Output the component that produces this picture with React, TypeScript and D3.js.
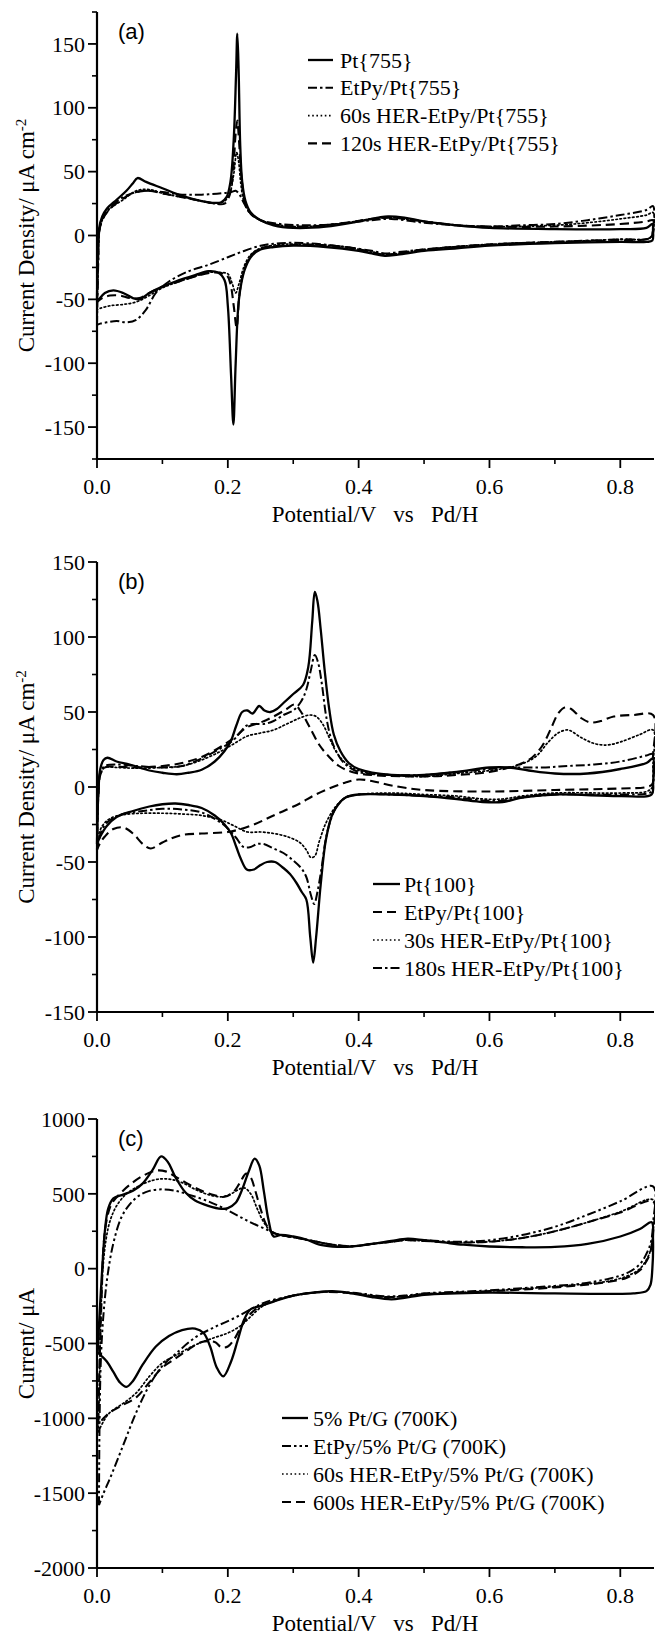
import React from 'react';
import * as d3 from 'd3';

type P = [number, number];

// ---------- Panel (a): Pt{755}, current density (uA cm-2) vs potential (V) ----------
const aPt: P[] = [[0,-50],[0.001,-20],[0.003,5],[0.008,15],[0.015,21],[0.03,28],[0.045,35],[0.055,41],[0.062,45],[0.075,42],[0.1,37],[0.13,31],[0.16,27],[0.18,25.5],[0.19,26],[0.198,30],[0.204,42],[0.209,75],[0.2125,125],[0.2145,158],[0.2165,130],[0.219,70],[0.222,42],[0.227,27],[0.235,18],[0.25,12],[0.27,8],[0.3,6],[0.35,7],[0.4,11],[0.43,14],[0.445,15],[0.47,14],[0.5,11],[0.55,8],[0.6,6],[0.7,5],[0.8,5],[0.84,6],[0.849,9],
  [0.85,4],[0.849,-4],[0.84,-5],[0.8,-5],[0.7,-6],[0.6,-8],[0.55,-10],[0.5,-12],[0.46,-15],[0.44,-16],[0.42,-14],[0.4,-12],[0.35,-9],[0.3,-8],[0.27,-9],[0.25,-11],[0.235,-17],[0.225,-28],[0.217,-50],[0.212,-100],[0.2085,-148],[0.205,-110],[0.2,-55],[0.195,-35],[0.185,-29],[0.17,-28],[0.15,-31],[0.12,-36],[0.1,-40],[0.08,-45],[0.065,-50],[0.055,-49],[0.04,-45],[0.025,-43],[0.012,-45],[0.003,-50],[0,-52]];
const aEtPy: P[] = [[0,-70],[0.002,-20],[0.004,5],[0.01,15],[0.02,22],[0.04,30],[0.06,34],[0.08,35],[0.1,34],[0.13,32],[0.16,32],[0.19,33],[0.205,34],[0.212,35],[0.218,32],[0.225,25],[0.235,17],[0.25,12],[0.28,9],[0.32,8],[0.37,9],[0.42,12],[0.45,13],[0.5,10],[0.55,8],[0.6,7],[0.65,8],[0.7,9],[0.75,12],[0.8,16],[0.84,20],[0.85,23],
  [0.85,5],[0.845,-2],[0.8,-3],[0.7,-5],[0.6,-7],[0.5,-11],[0.46,-13],[0.44,-14],[0.42,-12],[0.38,-9],[0.32,-6],[0.28,-6],[0.25,-8],[0.22,-13],[0.2,-17],[0.17,-23],[0.14,-28],[0.11,-36],[0.09,-45],[0.075,-58],[0.06,-66],[0.045,-68],[0.03,-67],[0.015,-68],[0.005,-69],[0,-70]];
const a60s: P[] = [[0,-58],[0.002,-15],[0.004,5],[0.01,14],[0.02,21],[0.04,28],[0.06,35],[0.08,36],[0.1,33],[0.13,30],[0.16,27],[0.18,25],[0.195,27],[0.203,33],[0.209,48],[0.2135,65],[0.2165,58],[0.22,40],[0.225,26],[0.235,17],[0.25,12],[0.28,8],[0.32,7],[0.38,10],[0.42,13],[0.45,14],[0.5,11],[0.55,8],[0.6,7],[0.7,8],[0.75,10],[0.8,13],[0.84,16],[0.85,18],
  [0.85,3],[0.845,-2],[0.8,-3],[0.7,-5],[0.6,-7],[0.5,-11],[0.46,-14],[0.44,-15],[0.42,-13],[0.38,-9],[0.32,-7],[0.28,-7],[0.25,-10],[0.235,-15],[0.225,-24],[0.217,-38],[0.212,-45],[0.207,-38],[0.2,-30],[0.19,-29],[0.17,-29],[0.15,-32],[0.12,-37],[0.1,-41],[0.08,-47],[0.06,-52],[0.04,-54],[0.02,-55],[0.005,-57],[0,-58]];
const a120s: P[] = [[0,-52],[0.002,-15],[0.004,5],[0.01,14],[0.02,21],[0.04,29],[0.06,34],[0.08,35],[0.1,33],[0.13,30],[0.16,27],[0.18,25],[0.195,25],[0.203,32],[0.208,50],[0.212,80],[0.2145,90],[0.217,75],[0.221,45],[0.226,27],[0.235,17],[0.25,12],[0.28,8],[0.32,7],[0.38,10],[0.42,13],[0.45,14],[0.5,11],[0.55,8],[0.6,7],[0.7,7],[0.8,9],[0.84,11],[0.85,12],
  [0.85,2],[0.845,-2],[0.8,-4],[0.7,-5],[0.6,-7],[0.5,-11],[0.46,-14],[0.44,-15],[0.42,-13],[0.38,-9],[0.32,-7],[0.28,-8],[0.25,-10],[0.235,-16],[0.225,-27],[0.218,-45],[0.2135,-72],[0.209,-55],[0.204,-38],[0.198,-31],[0.18,-29],[0.15,-32],[0.12,-37],[0.1,-40],[0.08,-45],[0.065,-49],[0.05,-49],[0.035,-47],[0.02,-47],[0.008,-49],[0,-52]];
const aLabels = ['Pt{755}', 'EtPy/Pt{755}', '60s HER-EtPy/Pt{755}', '120s HER-EtPy/Pt{755}'];
const aYTicks = [-150, -100, -50, 0, 50, 100, 150];

// ---------- Panel (b): Pt{100} ----------
const bPt: P[] = [[0,-38],[0.002,-5],[0.005,12],[0.01,18],[0.016,19.5],[0.03,17],[0.05,15],[0.08,11],[0.1,9.5],[0.122,8.5],[0.14,9.5],[0.16,11.5],[0.18,17],[0.195,24],[0.205,31],[0.213,41],[0.222,50],[0.23,51],[0.238,49],[0.248,54],[0.256,51],[0.265,50],[0.275,52],[0.285,56],[0.3,62],[0.315,68],[0.323,80],[0.329,110],[0.333,130],[0.337,124],[0.342,105],[0.348,78],[0.355,52],[0.362,35],[0.372,24],[0.385,16],[0.4,12],[0.45,8],[0.5,8],[0.55,10],[0.6,13],[0.63,13],[0.66,11],[0.7,9],[0.75,9],[0.8,12],[0.84,16],[0.85,19],
  [0.85,2],[0.848,-5],[0.8,-6],[0.7,-5],[0.65,-7],[0.62,-10],[0.59,-10],[0.55,-8],[0.5,-6],[0.45,-5],[0.4,-5],[0.38,-7],[0.37,-11],[0.36,-18],[0.35,-35],[0.342,-65],[0.335,-100],[0.3305,-117],[0.326,-100],[0.32,-75],[0.313,-70],[0.305,-64],[0.295,-58],[0.285,-54],[0.272,-50],[0.26,-50],[0.25,-52],[0.24,-55],[0.229,-55],[0.22,-48],[0.213,-40],[0.205,-31],[0.195,-25],[0.18,-19],[0.16,-14],[0.14,-12],[0.12,-11],[0.1,-11.5],[0.08,-13],[0.055,-16],[0.03,-20],[0.015,-26],[0.005,-33],[0,-38]];
const bEtPy: P[] = [[0,-42],[0.002,-5],[0.005,8],[0.012,13],[0.03,13.5],[0.06,13],[0.1,14],[0.13,16],[0.16,20],[0.19,27],[0.21,33],[0.23,40],[0.25,43],[0.27,47],[0.29,52],[0.302,55],[0.312,50],[0.325,40],[0.34,28],[0.355,20],[0.37,14],[0.39,10],[0.42,8],[0.5,7],[0.55,8],[0.6,10],[0.63,13],[0.66,18],[0.68,27],[0.695,40],[0.705,49],[0.715,53],[0.725,52],[0.74,46],[0.755,43],[0.77,44],[0.79,47],[0.82,48],[0.85,48],
  [0.85,20],[0.849,2],[0.84,0],[0.8,-1],[0.7,-2],[0.6,-3],[0.5,-2],[0.45,1],[0.42,4],[0.4,5],[0.38,3],[0.355,-1],[0.33,-6],[0.31,-11],[0.28,-17],[0.26,-21],[0.24,-25],[0.22,-28],[0.2,-30],[0.16,-31],[0.13,-32],[0.115,-34],[0.1,-37],[0.082,-41],[0.07,-38],[0.055,-31],[0.04,-27],[0.025,-28],[0.012,-33],[0.004,-38],[0,-42]];
const b30s: P[] = [[0,-35],[0.002,-5],[0.005,8],[0.012,13],[0.03,13],[0.06,12.5],[0.1,13],[0.13,14],[0.16,18],[0.19,24],[0.21,29],[0.23,34],[0.25,36],[0.27,38],[0.29,42],[0.31,46],[0.325,48],[0.335,47],[0.345,42],[0.355,33],[0.365,24],[0.38,16],[0.4,11],[0.45,8],[0.5,7],[0.55,9],[0.6,11],[0.64,14],[0.67,20],[0.69,30],[0.705,36],[0.72,38],[0.74,33],[0.76,29],[0.78,28],[0.8,30],[0.83,35],[0.85,38],
  [0.85,15],[0.849,0],[0.84,-3],[0.8,-4],[0.7,-4],[0.65,-6],[0.62,-8],[0.59,-8],[0.55,-6],[0.5,-5],[0.45,-4],[0.4,-5],[0.38,-7],[0.365,-13],[0.35,-24],[0.34,-36],[0.333,-46],[0.327,-47],[0.32,-42],[0.31,-37],[0.29,-33],[0.27,-31],[0.25,-30],[0.23,-30],[0.21,-26],[0.19,-22],[0.16,-19],[0.13,-18],[0.1,-17.5],[0.07,-17.5],[0.04,-18.5],[0.02,-21],[0.008,-26],[0,-35]];
const b180s: P[] = [[0,-42],[0.002,-5],[0.005,10],[0.012,14],[0.03,15],[0.06,14],[0.1,13],[0.13,14],[0.16,19],[0.19,26],[0.208,31],[0.22,37],[0.229,41],[0.24,42],[0.255,42],[0.27,44],[0.285,48],[0.3,51],[0.312,57],[0.32,65],[0.327,78],[0.333,88],[0.338,83],[0.344,68],[0.35,48],[0.358,32],[0.368,22],[0.38,15],[0.4,10],[0.45,8],[0.5,8],[0.55,10],[0.6,12],[0.63,13],[0.68,13],[0.72,14],[0.76,15],[0.8,17],[0.84,21],[0.85,22],
  [0.85,5],[0.848,-3],[0.8,-5],[0.7,-5],[0.65,-7],[0.62,-9],[0.59,-9],[0.55,-7],[0.5,-6],[0.45,-5],[0.4,-5],[0.38,-7],[0.365,-14],[0.352,-30],[0.343,-55],[0.337,-70],[0.332,-78],[0.327,-72],[0.32,-60],[0.312,-54],[0.3,-49],[0.285,-44],[0.27,-41],[0.255,-38],[0.245,-38],[0.235,-40],[0.224,-40],[0.213,-34],[0.203,-29],[0.19,-24],[0.16,-17],[0.13,-15],[0.1,-14.5],[0.07,-16],[0.04,-18],[0.02,-22],[0.008,-28],[0,-42]];
const bLabels = ['Pt{100}', 'EtPy/Pt{100}', '30s HER-EtPy/Pt{100}', '180s HER-EtPy/Pt{100}'];
const bYTicks = [-150, -100, -50, 0, 50, 100, 150];

// ---------- Panel (c): 5% Pt/G (700K), current (uA) ----------
const cPt: P[] = [[0.001,-560],[0.004,-300],[0.008,0],[0.012,250],[0.017,400],[0.025,470],[0.04,495],[0.055,520],[0.07,570],[0.085,660],[0.098,750],[0.108,715],[0.12,610],[0.135,510],[0.15,455],[0.17,420],[0.19,400],[0.2,405],[0.212,440],[0.222,530],[0.232,650],[0.241,735],[0.248,690],[0.255,520],[0.262,330],[0.27,215],[0.28,225],[0.3,215],[0.32,195],[0.34,160],[0.36,148],[0.39,148],[0.42,165],[0.45,185],[0.475,200],[0.5,190],[0.53,175],[0.56,160],[0.6,148],[0.65,143],[0.7,145],[0.75,165],[0.8,215],[0.83,265],[0.848,310],
  [0.85,200],[0.849,0],[0.846,-110],[0.84,-150],[0.82,-165],[0.78,-168],[0.7,-165],[0.6,-160],[0.55,-165],[0.5,-175],[0.47,-195],[0.45,-205],[0.42,-190],[0.39,-165],[0.36,-150],[0.33,-160],[0.3,-180],[0.27,-220],[0.25,-250],[0.235,-270],[0.225,-340],[0.215,-480],[0.205,-620],[0.193,-720],[0.183,-660],[0.173,-520],[0.163,-430],[0.15,-400],[0.13,-410],[0.11,-450],[0.09,-520],[0.07,-640],[0.055,-750],[0.045,-790],[0.035,-760],[0.025,-690],[0.015,-620],[0.006,-580],[0.001,-560]];
const cEtPy: P[] = [[0.003,-1580],[0.004,-1000],[0.006,-600],[0.01,-300],[0.016,-50],[0.025,170],[0.037,340],[0.05,430],[0.065,490],[0.08,520],[0.1,530],[0.12,520],[0.14,495],[0.17,450],[0.2,390],[0.23,320],[0.26,260],[0.28,225],[0.3,210],[0.33,185],[0.36,160],[0.39,150],[0.42,165],[0.45,180],[0.47,195],[0.5,190],[0.55,180],[0.6,190],[0.65,225],[0.7,280],[0.75,360],[0.8,450],[0.85,550],
  [0.85,300],[0.847,180],[0.84,100],[0.83,30],[0.81,-30],[0.78,-70],[0.74,-100],[0.7,-115],[0.65,-130],[0.6,-145],[0.55,-155],[0.5,-165],[0.47,-180],[0.44,-185],[0.41,-170],[0.38,-158],[0.35,-155],[0.32,-165],[0.29,-190],[0.26,-220],[0.24,-260],[0.21,-330],[0.18,-390],[0.15,-460],[0.12,-570],[0.1,-650],[0.08,-780],[0.06,-960],[0.04,-1180],[0.02,-1400],[0.01,-1500],[0.003,-1580]];
const c60s: P[] = [[0.002,-1090],[0.004,-700],[0.006,-300],[0.009,0],[0.014,200],[0.02,320],[0.03,420],[0.045,500],[0.065,555],[0.085,590],[0.1,600],[0.115,595],[0.13,575],[0.15,530],[0.17,495],[0.19,480],[0.205,500],[0.215,525],[0.225,540],[0.235,500],[0.245,400],[0.255,310],[0.265,255],[0.28,225],[0.3,210],[0.33,185],[0.36,160],[0.39,150],[0.42,165],[0.45,180],[0.47,190],[0.5,185],[0.55,175],[0.6,180],[0.65,205],[0.7,250],[0.75,310],[0.8,380],[0.85,460],
  [0.85,250],[0.846,120],[0.84,60],[0.83,0],[0.81,-50],[0.78,-85],[0.74,-105],[0.7,-120],[0.65,-135],[0.6,-150],[0.55,-160],[0.5,-170],[0.47,-185],[0.44,-190],[0.41,-175],[0.38,-160],[0.35,-155],[0.32,-165],[0.29,-190],[0.265,-225],[0.25,-260],[0.235,-320],[0.22,-380],[0.2,-430],[0.18,-460],[0.15,-510],[0.12,-580],[0.1,-630],[0.08,-720],[0.06,-830],[0.04,-900],[0.02,-960],[0.01,-1020],[0.002,-1090]];
const c600s: P[] = [[0.002,-1040],[0.004,-600],[0.007,-200],[0.01,150],[0.015,330],[0.022,430],[0.035,500],[0.05,560],[0.07,620],[0.09,655],[0.105,650],[0.12,615],[0.14,565],[0.16,520],[0.18,490],[0.195,480],[0.208,510],[0.218,570],[0.228,635],[0.235,610],[0.242,520],[0.25,400],[0.258,300],[0.267,245],[0.28,225],[0.3,210],[0.33,185],[0.36,160],[0.39,150],[0.42,165],[0.45,180],[0.47,190],[0.5,185],[0.55,175],[0.6,180],[0.65,205],[0.7,250],[0.75,310],[0.8,375],[0.85,450],
  [0.85,240],[0.846,110],[0.84,50],[0.83,-10],[0.81,-60],[0.78,-90],[0.74,-110],[0.7,-125],[0.65,-140],[0.6,-150],[0.55,-160],[0.5,-170],[0.47,-185],[0.44,-190],[0.41,-175],[0.38,-160],[0.35,-155],[0.32,-165],[0.29,-190],[0.265,-225],[0.25,-250],[0.235,-300],[0.22,-390],[0.21,-470],[0.2,-520],[0.19,-525],[0.18,-490],[0.16,-490],[0.14,-540],[0.12,-600],[0.1,-660],[0.08,-760],[0.06,-860],[0.04,-910],[0.02,-960],[0.01,-1000],[0.002,-1040]];
const cLabels = ['5% Pt/G (700K)', 'EtPy/5% Pt/G (700K)', '60s HER-EtPy/5% Pt/G (700K)', '600s HER-EtPy/5% Pt/G (700K)'];
const cYTicks = [-2000, -1500, -1000, -500, 0, 500, 1000];

const xTicks = [0, 0.2, 0.4, 0.6, 0.8];
const xMinor = [0.1, 0.3, 0.5, 0.7];

type StyleKey = 'solid' | 'dashdot' | 'dotted' | 'dashed' | 'dashdotdot';
const STY: Record<StyleKey, { dash: string; w: number }> = {
  solid: { dash: 'none', w: 2.3 },
  dashdot: { dash: '9,3,2.5,3', w: 2 },
  dotted: { dash: '1.6,2.6', w: 1.7 },
  dashed: { dash: '9,5', w: 2.1 },
  dashdotdot: { dash: '9,3,2.5,3,2.5,3', w: 2 },
};

const SERIF = '"Liberation Serif", "Times New Roman", serif';
const SANS = '"Liberation Sans", Arial, sans-serif';
const LEFT = 97;
const RIGHT = 653;

interface PanelProps {
  top: number; bottom: number; yDomain: [number, number];
  yTicks: number[]; yMinorStep: number;
  series: { data: P[]; style: StyleKey }[];
  labels: string[];
  legend: { lineX0: number; lineX1: number; textX: number; y0: number; dy: number };
  letter: string; yTitle: React.ReactNode;
}

function Panel(p: PanelProps) {
  const x = d3.scaleLinear().domain([0, 0.85]).range([LEFT, RIGHT]);
  const y = d3.scaleLinear().domain(p.yDomain).range([p.bottom, p.top]);
  const line = d3.line<P>().x(d => x(d[0])).y(d => y(d[1])).curve(d3.curveCatmullRom.alpha(0.5));
  const minor: number[] = [];
  for (let v = p.yDomain[0]; v <= p.yDomain[1] + 1e-9; v += p.yMinorStep) {
    if (!p.yTicks.some(t => Math.abs(t - v) < 1e-9)) minor.push(v);
  }
  const midY = (p.top + p.bottom) / 2;
  return (
    <g>
      {p.series.map((s, i) => (
        <path key={i} d={line(s.data) || ''} fill="none" stroke="#000"
          strokeWidth={STY[s.style].w} strokeDasharray={STY[s.style].dash}
          strokeLinejoin="round" strokeLinecap={s.style === 'dotted' ? 'round' : 'butt'} />
      ))}
      <line x1={LEFT} x2={LEFT} y1={p.top} y2={p.bottom + 1} stroke="#000" strokeWidth={2.2} />
      <line x1={LEFT - 1} x2={RIGHT + 1} y1={p.bottom} y2={p.bottom} stroke="#000" strokeWidth={2.2} />
      {p.yTicks.map(t => (
        <g key={'y' + t}>
          <line x1={LEFT - 9} x2={LEFT} y1={y(t)} y2={y(t)} stroke="#000" strokeWidth={1.8} />
          <text x={85} y={y(t)} dy="0.35em" textAnchor="end" fontFamily={SERIF} fontSize={22}>{String(t)}</text>
        </g>
      ))}
      {minor.map(t => (
        <line key={'ym' + t} x1={LEFT - 5} x2={LEFT} y1={y(t)} y2={y(t)} stroke="#000" strokeWidth={1.6} />
      ))}
      {xTicks.map(t => (
        <g key={'x' + t}>
          <line x1={x(t)} x2={x(t)} y1={p.bottom} y2={p.bottom + 9} stroke="#000" strokeWidth={1.8} />
          <text x={x(t)} y={p.bottom + 35} textAnchor="middle" fontFamily={SERIF} fontSize={22}>{d3.format('.1f')(t)}</text>
        </g>
      ))}
      {xMinor.map(t => (
        <line key={'xm' + t} x1={x(t)} x2={x(t)} y1={p.bottom} y2={p.bottom + 5} stroke="#000" strokeWidth={1.6} />
      ))}
      <text x={x(0.425)} y={p.bottom + 63} textAnchor="middle" fontFamily={SERIF} fontSize={23}
        style={{ whiteSpace: 'pre' }}>{'Potential/V   vs   Pd/H'}</text>
      <text transform={`translate(34,${midY}) rotate(-90)`} textAnchor="middle" fontFamily={SERIF} fontSize={23}>{p.yTitle}</text>
      <text x={118} y={p.top + 27} fontFamily={SANS} fontSize={22}>{p.letter}</text>
      {p.labels.map((lab, i) => {
        const ly = p.legend.y0 + i * p.legend.dy;
        const st = STY[p.series[i].style];
        return (
          <g key={'l' + i}>
            <line x1={p.legend.lineX0} x2={p.legend.lineX1} y1={ly} y2={ly} stroke="#000"
              strokeWidth={st.w} strokeDasharray={st.dash} />
            <text x={p.legend.textX} y={ly + 7.5} fontFamily={SERIF} fontSize={22}>{lab}</text>
          </g>
        );
      })}
    </g>
  );
}

const densityTitle = (
  <>
    <tspan>Current Density/ μA cm</tspan>
    <tspan dy="-0.55em" fontSize={15}>-2</tspan>
  </>
);

export default function App() {
  return (
    <svg width={655} height={1635} viewBox="0 0 655 1635"
      style={{ position: 'absolute', left: 0, top: 0, background: '#fff' }}>
      <rect x={0} y={0} width={655} height={1635} fill="#fff" />
      <Panel top={12} bottom={459} yDomain={[-175, 175]} yTicks={aYTicks} yMinorStep={25}
        series={[{ data: aPt, style: 'solid' }, { data: aEtPy, style: 'dashdot' }, { data: a60s, style: 'dotted' }, { data: a120s, style: 'dashed' }]}
        labels={aLabels} legend={{ lineX0: 308, lineX1: 333, textX: 340, y0: 60, dy: 27.8 }}
        letter="(a)" yTitle={densityTitle} />
      <Panel top={562} bottom={1012} yDomain={[-150, 150]} yTicks={bYTicks} yMinorStep={25}
        series={[{ data: bPt, style: 'solid' }, { data: bEtPy, style: 'dashed' }, { data: b30s, style: 'dotted' }, { data: b180s, style: 'dashdot' }]}
        labels={bLabels} legend={{ lineX0: 373, lineX1: 400, textX: 404, y0: 884, dy: 28 }}
        letter="(b)" yTitle={densityTitle} />
      <Panel top={1119} bottom={1568} yDomain={[-2000, 1000]} yTicks={cYTicks} yMinorStep={250}
        series={[{ data: cPt, style: 'solid' }, { data: cEtPy, style: 'dashdotdot' }, { data: c60s, style: 'dotted' }, { data: c600s, style: 'dashed' }]}
        labels={cLabels} legend={{ lineX0: 282, lineX1: 308, textX: 313, y0: 1418, dy: 28 }}
        letter="(c)" yTitle={<tspan>Current/ μA</tspan>} />
    </svg>
  );
}
